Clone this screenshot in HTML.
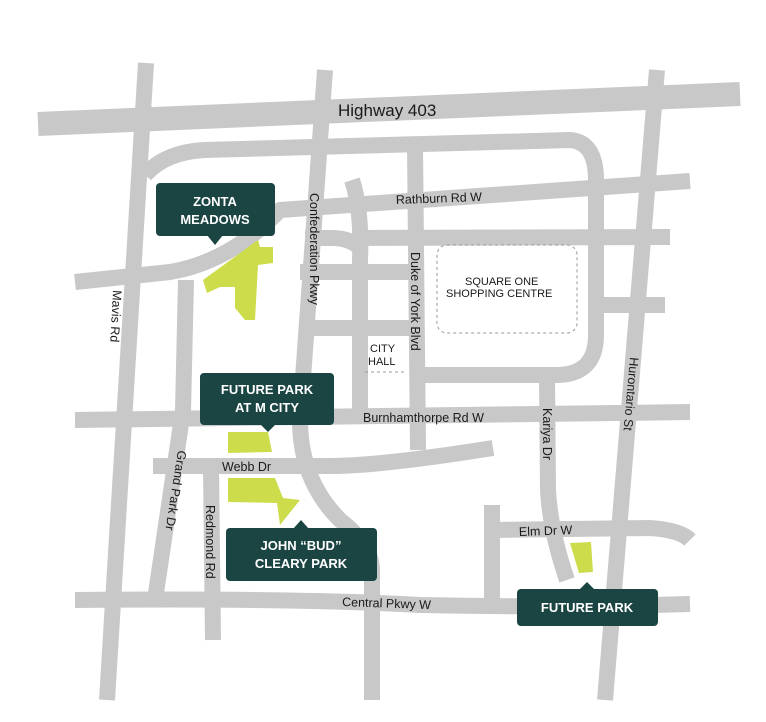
<!DOCTYPE html>
<html><head><meta charset="utf-8"><style>
html,body{margin:0;padding:0;background:#fff;}
svg{display:block;}
text{font-family:"Liberation Sans",sans-serif;fill:#1a1a1a;}
.l{font-size:12.5px;}
.b{font-size:13px;font-weight:bold;fill:#fff;text-anchor:middle;}
</style></head><body>
<svg width="766" height="722" viewBox="0 0 766 722" xmlns="http://www.w3.org/2000/svg">
<g fill="none" stroke="#c8c8c9" stroke-width="16" stroke-linejoin="round">
<path d="M38,124 L740,94" stroke-width="24"/>
<path d="M146,63 L107,700"/>
<path d="M145,175 Q165,152 205,150 L570,140 Q596,142 596,180 L596,335 Q596,375 556,375 L415,375"/>
<path d="M75,282 L170,272 Q230,262 280,210 L690,181"/>
<path d="M186,280 L183,410 L155,600"/>
<path d="M211,466 L213,640"/>
<path d="M325,70 L300,420 Q300,480 340,520 Q372,545 372,570 L372,700"/>
<path d="M415,145 L418,450"/>
<path d="M352,180 Q362,210 360,260 L360,415"/>
<path d="M305,238 L332,238 Q350,238 360,248 M360,238 L670,237"/>
<path d="M300,272 L415,272"/>
<path d="M300,328 L418,328"/>
<path d="M596,305 L665,305"/>
<path d="M657,70 L605,700"/>
<path d="M75,420 L690,412"/>
<path d="M547,375 L548,490 Q550,530 567,580"/>
<path d="M153,466 L330,466 Q380,466 493,448"/>
<path d="M75,600 Q300,598 420,605 Q560,608 690,604"/>
<path d="M492,505 L492,600"/>
<path d="M492,530 L650,528 Q680,530 690,540"/>
</g>
<rect x="437" y="245" width="140" height="88" rx="10" fill="none" stroke="#999" stroke-width="1" stroke-dasharray="3,3"/>
<path d="M365,372 L407,372" stroke="#999" stroke-width="1" stroke-dasharray="3,3"/>
<g fill="#cddc4b">
<polygon points="203,280 258,240 260,247 273,247 273,263 258,265 255,320 245,320 235,308 235,287 220,287 207,293"/>
<polygon points="228,432 268,432 272,452 228,453"/>
<polygon points="228,478 275,478 283,498 300,500 280,525 277,503 228,502"/>
<polygon points="570,543 591,542 593,572 579,573"/>
</g>
<g fill="#1b4543">
<rect x="156" y="183" width="119" height="53" rx="4"/><polygon points="207,235 223,235 215,245"/>
<rect x="200" y="373" width="134" height="52" rx="4"/><polygon points="260,424 276,424 268,432"/>
<rect x="226" y="528" width="151" height="53" rx="4"/><polygon points="293,529 309,529 301,520"/>
<rect x="517" y="589" width="141" height="37" rx="4"/><polygon points="579,590 595,590 587,582"/>
</g>
<text class="b" x="215" y="206">ZONTA</text><text class="b" x="215" y="224">MEADOWS</text>
<text class="b" x="267" y="394">FUTURE PARK</text><text class="b" x="267" y="412">AT M CITY</text>
<text class="b" x="301" y="550">JOHN “BUD”</text><text class="b" x="301" y="568">CLEARY PARK</text>
<text class="b" x="587" y="612">FUTURE PARK</text>
<text x="338" y="116" style="font-size:17px">Highway 403</text>
<text class="l" x="396" y="204" transform="rotate(-2 396 204)">Rathburn Rd W</text>
<text class="l" x="363" y="422">Burnhamthorpe Rd W</text>
<text class="l" x="222" y="471">Webb Dr</text>
<text class="l" x="342" y="606" transform="rotate(2 342 606)">Central Pkwy W</text>
<text class="l" x="519" y="536" transform="rotate(-2 519 536)">Elm Dr W</text>
<text class="l" x="465" y="285" style="font-size:11px">SQUARE ONE</text>
<text class="l" x="446" y="297" style="font-size:11px">SHOPPING CENTRE</text>
<text class="l" x="370" y="352" style="font-size:11px">CITY</text>
<text class="l" x="368" y="365" style="font-size:11px">HALL</text>
<text class="l" x="310" y="193" transform="rotate(90 310 193)">Confederation Pkwy</text>
<text class="l" x="411" y="252" transform="rotate(90 411 252)">Duke of York Blvd</text>
<text class="l" x="113" y="290" transform="rotate(93 113 290)">Mavis Rd</text>
<text class="l" x="178" y="450" transform="rotate(99 178 450)">Grand Park Dr</text>
<text class="l" x="206" y="505" transform="rotate(90 206 505)">Redmond Rd</text>
<text class="l" x="543" y="408" transform="rotate(90 543 408)">Kariya Dr</text>
<text class="l" x="630" y="357" transform="rotate(95 630 357)">Hurontario St</text>
</svg>
</body></html>
